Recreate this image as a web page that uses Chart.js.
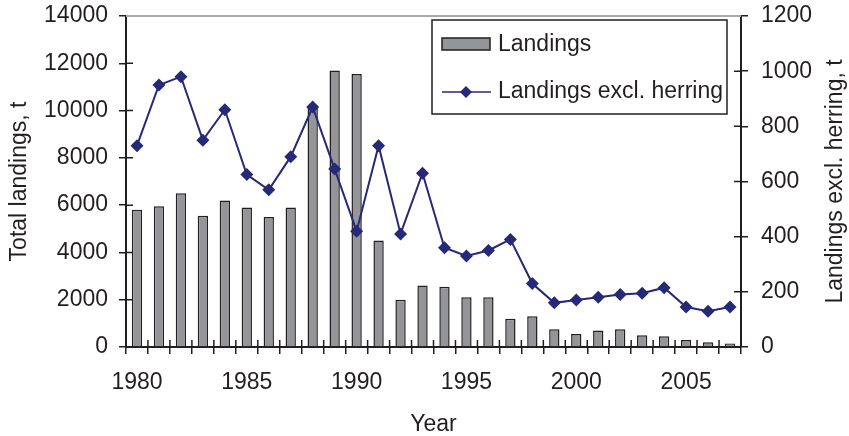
<!DOCTYPE html>
<html>
<head>
<meta charset="utf-8">
<script src="https://cdn.jsdelivr.net/npm/chart.js@4.4.0/dist/chart.umd.min.js"></script>
<style>
  html, body { margin: 0; padding: 0; background: #ffffff; }
</style>
</head>
<body>
<canvas id="chart" width="849" height="436"></canvas>
<script>
// years on the x axis
const years = [1980, 1981, 1982, 1983, 1984, 1985, 1986, 1987, 1988, 1989,
  1990, 1991, 1992, 1993, 1994, 1995, 1996, 1997, 1998, 1999,
  2000, 2001, 2002, 2003, 2004, 2005, 2006, 2007];
// total landings, t (left axis)
const landings = [5800, 5950, 6500, 5550, 6200, 5900, 5500, 5900, 10200, 11700,
  11550, 4500, 2000, 2600, 2550, 2100, 2100, 1200, 1300, 750,
  550, 700, 750, 500, 450, 300, 200, 150];
// landings excl. herring, t (right axis)
const landingsExclHerring = [730, 950, 980, 750, 860, 625, 570, 690, 870, 645,
  420, 730, 410, 630, 360, 330, 350, 390, 230, 160,
  170, 180, 190, 195, 215, 145, 130, 145];

const ink = "#231f20";
const barGrey = "#939598";
const navy = "#262878";
const fontName = "'Liberation Sans', Arial, sans-serif";
const rightTitle = "Landings excl. herring, t";

Chart.defaults.font.family = fontName;
Chart.defaults.font.size = 23;
Chart.defaults.color = ink;

// draws the inner half of the ticks, the top frame line, the legend box and the right title
const extras = {
  id: "extras",
  beforeDatasetsDraw(chart) {
    const ctx = chart.ctx;
    const area = chart.chartArea;
    const xs = chart.scales.x;
    ctx.save();
    ctx.strokeStyle = ink;
    ctx.lineWidth = 1.5;
    ctx.beginPath();
    for (let i = 0; i <= years.length; i++) {
      const px = xs.getPixelForValue(i - 0.5);
      ctx.moveTo(px, area.bottom);
      ctx.lineTo(px, area.bottom - 7);
    }
    chart.scales.y.ticks.forEach((t, i) => {
      const py = chart.scales.y.getPixelForTick(i);
      ctx.moveTo(area.left, py);
      ctx.lineTo(area.left + 7, py);
    });
    chart.scales.y1.ticks.forEach((t, i) => {
      const py = chart.scales.y1.getPixelForTick(i);
      ctx.moveTo(area.right, py);
      ctx.lineTo(area.right - 7, py);
    });
    ctx.stroke();
    // light frame line on top
    ctx.strokeStyle = "#a7a9ac";
    ctx.lineWidth = 2;
    ctx.beginPath();
    ctx.moveTo(area.left, area.top);
    ctx.lineTo(area.right, area.top);
    ctx.stroke();
    ctx.restore();
  },
  afterDraw(chart) {
    const ctx = chart.ctx;
    const area = chart.chartArea;
    const ds = chart.data.datasets;
    ctx.save();
    // legend
    const bw = 295, bh = 94;
    const bx = area.right - 14 - bw, by = area.top + 4;
    ctx.fillStyle = "#ffffff";
    ctx.fillRect(bx, by, bw, bh);
    ctx.strokeStyle = ink;
    ctx.lineWidth = 1.5;
    ctx.strokeRect(bx, by, bw, bh);
    ctx.font = "23px " + fontName;
    ctx.textBaseline = "middle";
    ctx.textAlign = "left";
    // bar entry
    ctx.fillStyle = ds[0].backgroundColor;
    ctx.fillRect(bx + 10, by + 18, 48, 12);
    ctx.strokeRect(bx + 10, by + 18, 48, 12);
    ctx.fillStyle = ink;
    ctx.fillText(ds[0].label, bx + 66, by + 25);
    // line entry
    ctx.strokeStyle = navy;
    ctx.lineWidth = 1.5;
    ctx.beginPath();
    ctx.moveTo(bx + 10, by + 72);
    ctx.lineTo(bx + 59, by + 72);
    ctx.stroke();
    ctx.fillStyle = navy;
    ctx.beginPath();
    ctx.moveTo(bx + 34, by + 66);
    ctx.lineTo(bx + 40, by + 72);
    ctx.lineTo(bx + 34, by + 78);
    ctx.lineTo(bx + 28, by + 72);
    ctx.closePath();
    ctx.fill();
    ctx.fillStyle = ink;
    ctx.fillText(ds[1].label, bx + 66, by + 72);
    // right axis title, read bottom to top
    ctx.translate(836, (area.top + area.bottom) / 2);
    ctx.rotate(-Math.PI / 2);
    ctx.textAlign = "center";
    ctx.fillText(rightTitle, 0, 0);
    ctx.restore();
  }
};

new Chart(document.getElementById("chart"), {
  type: "bar",
  plugins: [extras],
  data: {
    labels: years,
    datasets: [
      {
        type: "bar",
        label: "Landings",
        data: landings,
        yAxisID: "y",
        backgroundColor: barGrey,
        borderColor: ink,
        borderWidth: 1.5,
        barPercentage: 0.47,
        categoryPercentage: 1,
        order: 2
      },
      {
        type: "line",
        label: "Landings excl. herring",
        data: landingsExclHerring,
        yAxisID: "y1",
        borderColor: navy,
        backgroundColor: navy,
        borderWidth: 2,
        pointStyle: "rectRot",
        pointRadius: 6.5,
        pointBorderWidth: 0,
        tension: 0,
        order: 1
      }
    ]
  },
  options: {
    responsive: false,
    devicePixelRatio: 1,
    animation: false,
    layout: { padding: { top: 16, left: 0, right: 0, bottom: 0 } },
    plugins: {
      legend: { display: false },
      tooltip: { enabled: false }
    },
    scales: {
      x: {
        offset: true,
        grid: { display: true, drawOnChartArea: false, offset: true, tickLength: 7, color: ink, lineWidth: 1.5 },
        border: { display: true, color: ink, width: 2 },
        ticks: {
          autoSkip: false,
          maxRotation: 0,
          padding: 15,
          callback: (v, i) => (years[i] % 5 === 0 ? String(years[i]) : "")
        },
        title: { display: true, text: "Year", font: { lineHeight: 1 }, padding: { top: 0, bottom: 0 } },
        afterFit: (s) => { s.height = 89; s.paddingLeft = 0; s.paddingRight = 0; }
      },
      y: {
        position: "left",
        min: 0,
        max: 14000,
        grid: { display: true, drawOnChartArea: false, tickLength: 7, color: ink, lineWidth: 1.5 },
        border: { display: true, color: ink, width: 2 },
        ticks: { stepSize: 2000, padding: 11, callback: (v) => String(v) },
        title: { display: true, text: "Total landings, t", padding: { top: 6, bottom: 0 } },
        afterFit: (s) => { s.width = 126; s.paddingTop = 0; s.paddingBottom = 0; }
      },
      y1: {
        position: "right",
        min: 0,
        max: 1200,
        grid: { display: true, drawOnChartArea: false, tickLength: 7, color: ink, lineWidth: 1.5 },
        border: { display: true, color: ink, width: 2 },
        ticks: { stepSize: 200, padding: 13, callback: (v) => String(v) },
        afterFit: (s) => { s.width = 108; s.paddingTop = 0; s.paddingBottom = 0; }
      }
    }
  }
});
</script>
</body>
</html>
